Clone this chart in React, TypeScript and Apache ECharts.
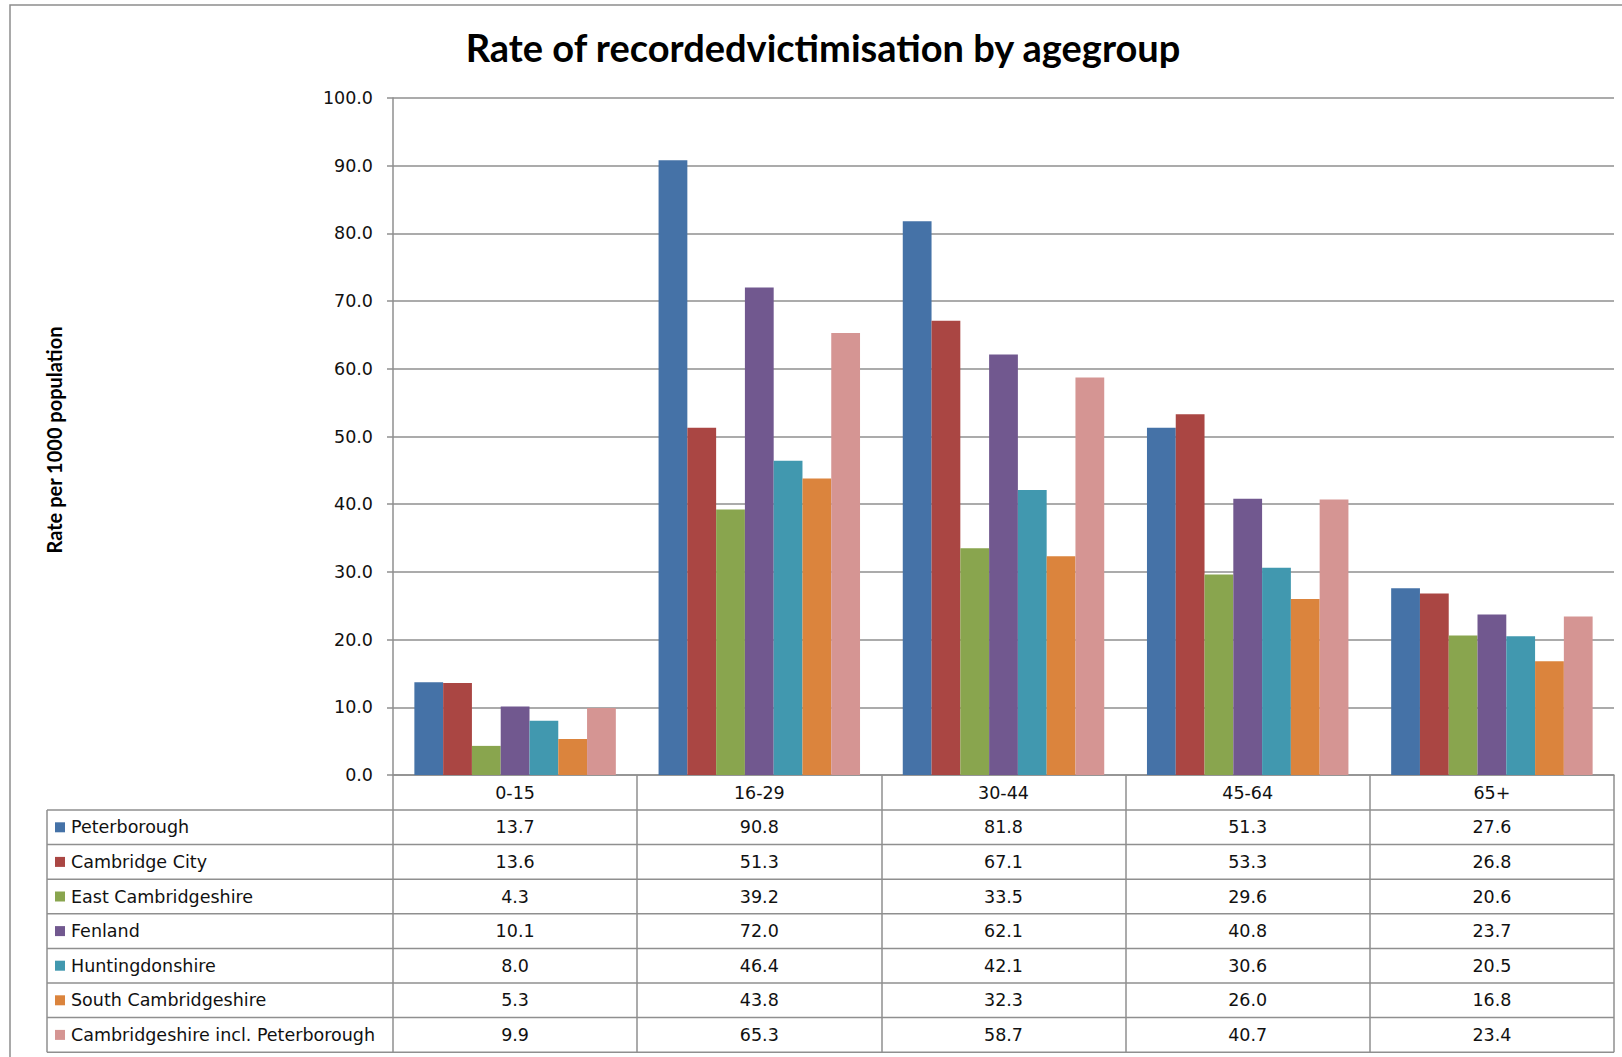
import React, { useEffect, useRef } from "react";
import * as echarts from "echarts";

const categories = ["0-15", "16-29", "30-44", "45-64", "65+"];
const seriesNames = [
  "Peterborough",
  "Cambridge City",
  "East Cambridgeshire",
  "Fenland",
  "Huntingdonshire",
  "South Cambridgeshire",
  "Cambridgeshire incl. Peterborough",
];
const peterborough = [13.7, 90.8, 81.8, 51.3, 27.6];
const cambridgeCity = [13.6, 51.3, 67.1, 53.3, 26.8];
const eastCambridgeshire = [4.3, 39.2, 33.5, 29.6, 20.6];
const fenland = [10.1, 72.0, 62.1, 40.8, 23.7];
const huntingdonshire = [8.0, 46.4, 42.1, 30.6, 20.5];
const southCambridgeshire = [5.3, 43.8, 32.3, 26.0, 16.8];
const cambsInclPeterborough = [9.9, 65.3, 58.7, 40.7, 23.4];
const seriesValues = [
  peterborough,
  cambridgeCity,
  eastCambridgeshire,
  fenland,
  huntingdonshire,
  southCambridgeshire,
  cambsInclPeterborough,
];
const colors = ["#4572A7", "#AA4643", "#89A54E", "#71588F", "#4198AF", "#DB843D", "#D59593"];

const W = 1622;
const H = 1057;
const GRID_LEFT = 393;
const GRID_RIGHT_X = 1614;
const GRID_TOP = 98;
const AXIS_Y = 775;
const HEADER_H = 35;
const ROW_H = 34.6;
const TABLE_LEFT = 47;
const LINE_COLOR = "#8f8f8f";
const TABLE_FONT = "DejaVu Sans";
const TABLE_SIZE = 17.5;

export default function App() {
  const ref = useRef<HTMLDivElement>(null);
  useEffect(() => {
    if (!ref.current) return;
    const chart = echarts.init(ref.current, undefined, { renderer: "svg" });
    const colW = (GRID_RIGHT_X - GRID_LEFT) / categories.length;
    const tableBottom = AXIS_Y + HEADER_H + ROW_H * seriesNames.length;
    const graphics: any[] = [];
    graphics.push({
      type: "rect",
      shape: { x: 10, y: 5, width: 1700, height: 1200 },
      style: { fill: "none", stroke: "#8d8d8d", lineWidth: 1.5 },
      silent: true,
    });
    graphics.push({
      type: "text",
      x: 823,
      y: 47,
      style: {
        text: "Rate of recordedvictimisation by agegroup",
        font: "bold 38px Lato",
        fill: "#000",
        textAlign: "center",
        textVerticalAlign: "middle",
      },
    });
    graphics.push({
      type: "text",
      x: 54,
      y: 440,
      rotation: Math.PI / 2,
      style: {
        text: "Rate per 1000 population",
        font: "bold 20px Lato",
        fill: "#000",
        textAlign: "center",
        textVerticalAlign: "middle",
      },
    });
    for (let r = 0; r <= seriesNames.length; r++) {
      const y = AXIS_Y + HEADER_H + r * ROW_H;
      graphics.push({
        type: "line",
        shape: { x1: TABLE_LEFT, y1: y, x2: GRID_RIGHT_X, y2: y },
        style: { stroke: LINE_COLOR, lineWidth: 1.5 },
        silent: true,
      });
    }
    graphics.push({
      type: "line",
      shape: { x1: TABLE_LEFT, y1: AXIS_Y + HEADER_H, x2: TABLE_LEFT, y2: tableBottom },
      style: { stroke: LINE_COLOR, lineWidth: 1.5 },
      silent: true,
    });
    seriesNames.forEach((name, s) => {
      const cy = AXIS_Y + HEADER_H + s * ROW_H + ROW_H / 2;
      graphics.push({
        type: "rect",
        shape: { x: 55, y: cy - 5, width: 10, height: 10 },
        style: { fill: colors[s] },
      });
      graphics.push({
        type: "text",
        x: 71,
        y: cy,
        style: {
          text: name,
          font: `${TABLE_SIZE}px '${TABLE_FONT}'`,
          fill: "#111",
          textAlign: "left",
          textVerticalAlign: "middle",
        },
      });
      seriesValues[s].forEach((v, c) => {
        graphics.push({
          type: "text",
          x: GRID_LEFT + (c + 0.5) * colW,
          y: cy,
          style: {
            text: v.toFixed(1),
            font: `${TABLE_SIZE}px '${TABLE_FONT}'`,
            fill: "#111",
            textAlign: "center",
            textVerticalAlign: "middle",
          },
        });
      });
    });

    chart.setOption({
      animation: false,
      backgroundColor: "#fff",
      grid: {
        left: GRID_LEFT,
        right: W - GRID_RIGHT_X,
        top: GRID_TOP,
        bottom: H - AXIS_Y,
        containLabel: false,
      },
      xAxis: {
        type: "category",
        data: categories,
        axisLine: { lineStyle: { color: LINE_COLOR, width: 1.5 } },
        axisTick: {
          show: true,
          alignWithLabel: false,
          length: tableBottom - AXIS_Y,
          lineStyle: { color: LINE_COLOR, width: 1.5 },
        },
        axisLabel: {
          margin: 9,
          fontFamily: TABLE_FONT,
          fontSize: TABLE_SIZE,
          color: "#111",
          interval: 0,
        },
      },
      yAxis: {
        type: "value",
        min: 0,
        max: 100,
        interval: 10,
        axisLine: { show: true, lineStyle: { color: LINE_COLOR, width: 1.5 } },
        axisTick: { show: true, length: 6, lineStyle: { color: LINE_COLOR, width: 1.5 } },
        splitLine: { lineStyle: { color: LINE_COLOR, width: 1.5 } },
        axisLabel: {
          margin: 20,
          formatter: (v: number) => v.toFixed(1),
          fontFamily: TABLE_FONT,
          fontSize: TABLE_SIZE,
          color: "#111",
        },
      },
      series: seriesNames.map((name, s) => ({
        name,
        type: "bar",
        data: seriesValues[s],
        barGap: "0%",
        barCategoryGap: "17.5%",
        itemStyle: { color: colors[s] },
      })),
      graphic: graphics,
    });
    return () => chart.dispose();
  }, []);
  return (
    <div
      ref={ref}
      style={{ position: "fixed", left: 0, top: 0, width: W, height: H }}
    />
  );
}
